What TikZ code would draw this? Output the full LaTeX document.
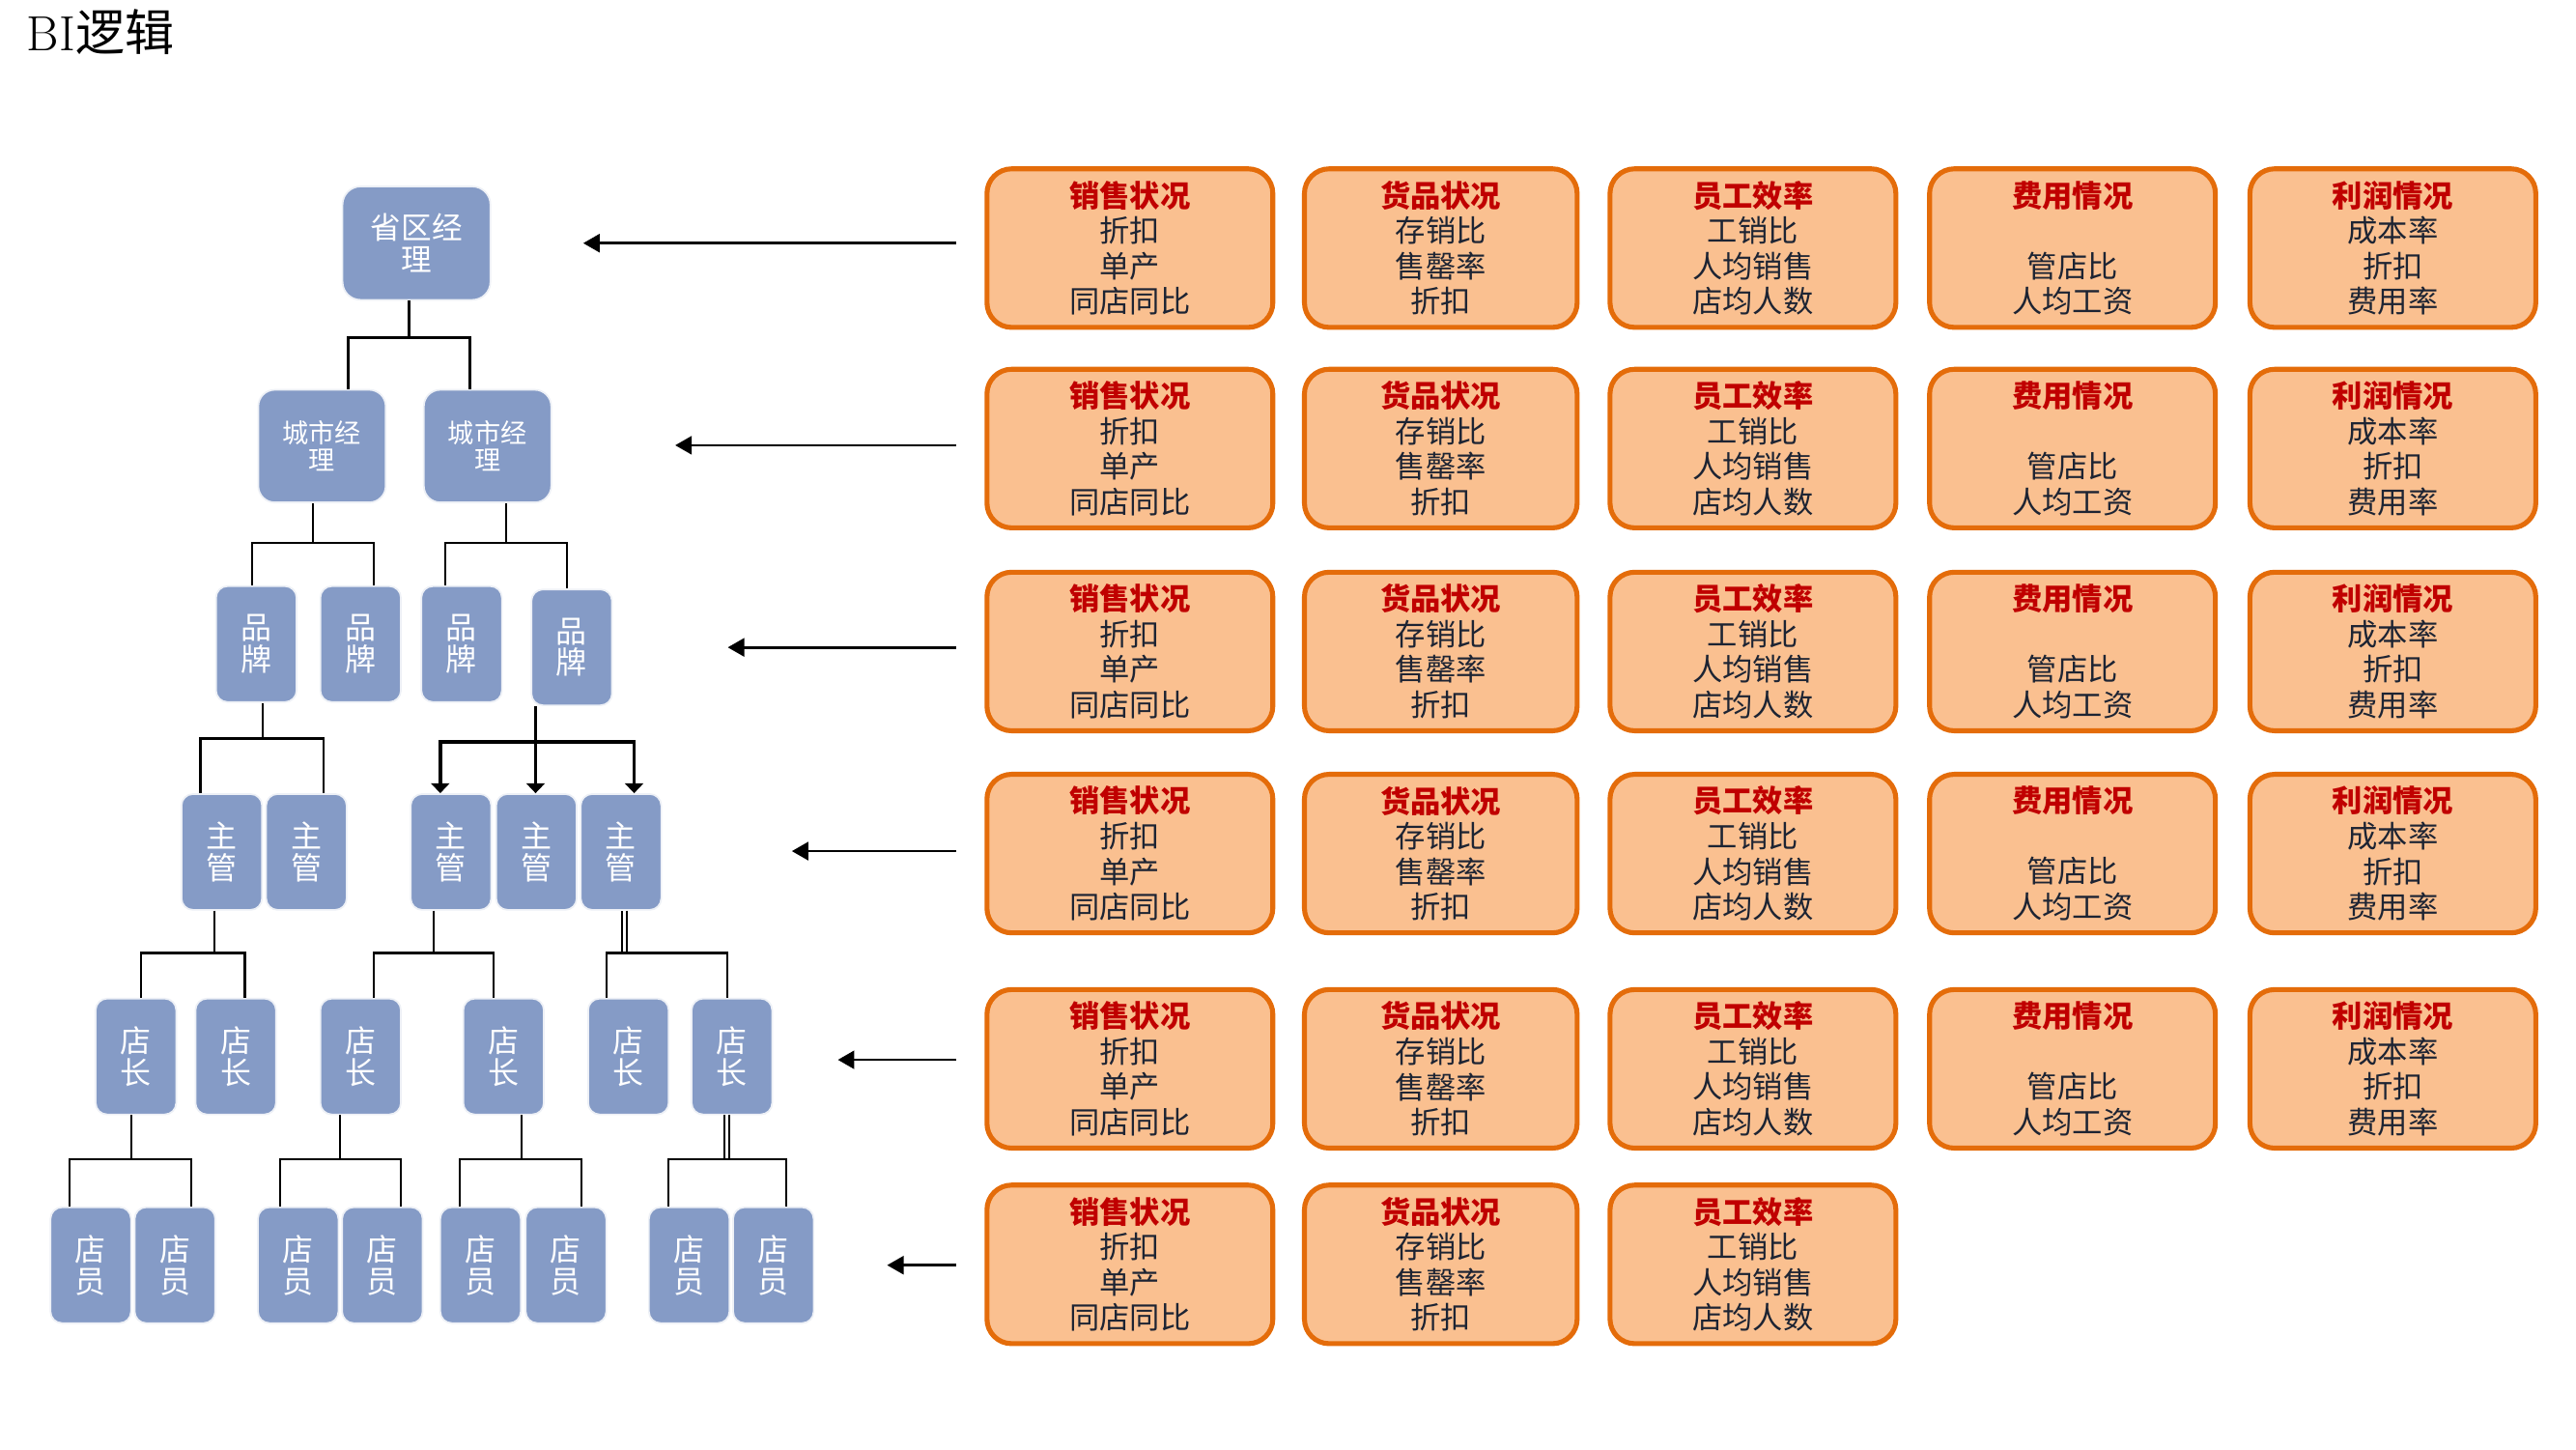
\documentclass[tikz,border=0pt]{standalone}
\usepackage{fontspec}
\newfontfamily\cjk{Noto Sans CJK SC}
\usepackage{tikz}
\usetikzlibrary{arrows.meta,calc}
\definecolor{kpifill}{HTML}{FAC090}
\definecolor{kpiline}{HTML}{E46C0A}
\definecolor{kpihead}{HTML}{C00000}
\definecolor{kpitext}{HTML}{1D2433}
\definecolor{orgblue}{HTML}{859BC6}
\newcommand{\kpititle}[1]{{\bfseries\color{kpihead}#1}}

\begin{document}
\begin{tikzpicture}[x=0.5pt,y=0.5pt,yscale=-1,
	kpi/.style={draw=kpiline, line width=1.5pt, fill=kpifill, rounded corners=7.5pt, minimum width=87pt, minimum height=48.25pt, inner sep=0pt, align=center, text=kpitext, font=\cjk\fontsize{9.2}{10.75}\selectfont},
	orgbox/.style={draw=white!85!orgblue, line width=0.5pt, fill=orgblue, rounded corners=3.5pt, minimum width=24.5pt, minimum height=35.25pt, inner sep=0pt, align=center, text=white, font=\cjk\fontsize{9.4}{9.6}\selectfont},
	orgline/.style={line width=0.65pt},
	orgarrow/.style={line width=1pt, -{Triangle[length=3pt,width=5.5pt]}},
	kpiarrow/.style={line width=0.8pt, -{Triangle[length=5pt,width=5.5pt]}}]
	%set diagram to 1568 x 882
	\fill[white] (0,0) rectangle (1568,882);
	\useasboundingbox (0,0) rectangle (1568,882);
	
	\node[anchor=base west, inner sep=0pt, font=\fontsize{15}{16}\selectfont] (title) at (16,31) {BI{\cjk 逻辑}};
	
	\foreach \r/\y in {1/151,2/273,3/396.5,4/519.5,5/650.5}{
		\node[kpi] (k\r1) at (687.75,\y) {\kpititle{销售状况}\\折扣\\单产\\同店同比};
		\node[kpi, minimum width=83pt] (k\r2) at (877,\y) {\kpititle{货品状况}\\存销比\\售罄率\\折扣};
		\node[kpi] (k\r3) at (1067,\y) {\kpititle{员工效率}\\工销比\\人均销售\\店均人数};
		\node[kpi] (k\r4) at (1261.5,\y) {\kpititle{费用情况}\\ \mbox{}\\管店比\\人均工资};
		\node[kpi] (k\r5) at (1456.5,\y) {\kpititle{利润情况}\\成本率\\折扣\\费用率};
	}
	\node[kpi] (k61) at (687.75,769.5) {\kpititle{销售状况}\\折扣\\单产\\同店同比};
	\node[kpi, minimum width=83pt] (k62) at (877,769.5) {\kpititle{货品状况}\\存销比\\售罄率\\折扣};
	\node[kpi] (k63) at (1067,769.5) {\kpititle{员工效率}\\工销比\\人均销售\\店均人数};
	
	\foreach \r/\x/\y in {1/355/148,2/411/271,3/443/394,4/482/518,5/510/645,6/540/770}{
		\coordinate (tip\r) at (\x,\y);
		\draw[kpiarrow] ($(k\r1.west |- tip\r)+(-17.5,0)$) -- (tip\r);
	}
	
	\node[orgbox, minimum width=45pt, minimum height=34.5pt, rounded corners=5.5pt, font=\cjk\fontsize{9.3}{9.6}\selectfont] (prov) at (253.5,148) {省区经\\理};
	\node[orgbox, minimum width=38.75pt, minimum height=34.25pt, rounded corners=5pt, font=\cjk\fontsize{8}{8.4}\selectfont] (city1) at (196,271.5) {城市经\\理};
	\node[orgbox, minimum width=38.75pt, minimum height=34.25pt, rounded corners=5pt, font=\cjk\fontsize{8}{8.4}\selectfont] (city2) at (296.75,271.5) {城市经\\理};
	\foreach \i/\x in {1/156,2/219.5,3/281}
		\node[orgbox] (brand\i) at (\x,392) {品\\牌};
	\node[orgbox] (brand4) at (348,394) {品\\牌};
	\foreach \i/\x in {1/135,2/186.5,3/274.5,4/326.5,5/378}
		\node[orgbox] (sup\i) at (\x,518.5) {主\\管};
	\foreach \i/\x in {1/82.75,2/143.5,3/219.5,4/306.5,5/382.5,6/445.5}
		\node[orgbox] (mgr\i) at (\x,643) {店\\长};
	\foreach \i/\x in {1/55.25,2/106.5,3/181.5,4/232.75,5/292.5,6/344.5,7/419.5,8/470.75}
		\node[orgbox] (clerk\i) at (\x,770) {店\\员};
	
	\draw[orgline] ($(prov.south)+(-4.5,0)$) -- ++(0,22.5) -| ($(city1.north)+(16,0)$);
	\draw[orgline] ($(prov.south)+(-4.5,22.5)$) -| ($(city2.north)+(-10.75,0)$);
	\draw[orgline] ($(city1.south)+(-5.5,0)$) -- ++(0,24.25) -| ($(brand1.north)+(-2.5,0)$);
	\draw[orgline] ($(city1.south)+(-5.5,24.25)$) -| ($(brand2.north)+(7.8,0)$);
	\draw[orgline] ($(city2.south)+(11.25,0)$) -- ++(0,24.25) -| ($(brand3.north)+(-10,0)$);
	\draw[orgline] ($(city2.south)+(11.25,24.25)$) -| ($(brand4.north)+(-3,0)$);
	\draw[orgline] ($(brand1.south)+(4,0)$) -- ++(0,21.75) -| ($(sup1.north)+(-13,0)$);
	\draw[orgline] ($(brand1.south)+(4,21.75)$) -| ($(sup2.north)+(10.5,0)$);
	\draw[orgarrow] ($(brand4.south)+(-22,0)$) -- ($(sup4.north)+(-0.5,0)$);
	\draw[orgarrow] ($(brand4.south)+(-22,21.75)$) -| ($(sup3.north)+(-6.5,0)$);
	\draw[orgarrow] ($(brand4.south)+(-22,21.75)$) -| ($(sup5.north)+(8,0)$);
	\draw[orgline] ($(sup1.south)+(-4.6,0)$) -- ++(0,25.75) -| ($(mgr1.north)+(3.25,0)$);
	\draw[orgline] ($(sup1.south)+(-4.6,25.75)$) -| ($(mgr2.north)+(5.5,0)$);
	\draw[orgline] ($(sup3.south)+(-10.5,0)$) -- ++(0,25.75) -| ($(mgr3.north)+(8,0)$);
	\draw[orgline] ($(sup3.south)+(-10.5,25.75)$) -| ($(mgr4.north)+(-6,0)$);
	\draw[orgline, double, double distance=0.7pt] ($(sup5.south)+(2,0)$) -- ++(0,25.75);
	\draw[orgline] ($(sup5.south)+(2,25.75)$) -| ($(mgr5.north)+(-13.5,0)$);
	\draw[orgline] ($(sup5.south)+(2,25.75)$) -| ($(mgr6.north)+(-2.8,0)$);
	\draw[orgline] ($(mgr1.south)+(-3,0)$) -- ++(0,26.75) -| ($(clerk1.north)+(-12.75,0)$);
	\draw[orgline] ($(mgr1.south)+(-3,26.75)$) -| ($(clerk2.north)+(10,0)$);
	\draw[orgline] ($(mgr3.south)+(-12.5,0)$) -- ++(0,26.75) -| ($(clerk3.north)+(-11,0)$);
	\draw[orgline] ($(mgr3.south)+(-12.5,26.75)$) -| ($(clerk4.north)+(11.25,0)$);
	\draw[orgline] ($(mgr4.south)+(10.8,0)$) -- ++(0,26.75) -| ($(clerk5.north)+(-12.5,0)$);
	\draw[orgline] ($(mgr4.south)+(10.8,26.75)$) -| ($(clerk6.north)+(9.5,0)$);
	\draw[orgline, double, double distance=0.7pt] ($(mgr6.south)+(-3,0)$) -- ++(0,26.75);
	\draw[orgline] ($(mgr6.south)+(-3,26.75)$) -| ($(clerk7.north)+(-12.5,0)$);
	\draw[orgline] ($(mgr6.south)+(-3,26.75)$) -| ($(clerk8.north)+(7.7,0)$);
	
\end{tikzpicture}
\end{document}
